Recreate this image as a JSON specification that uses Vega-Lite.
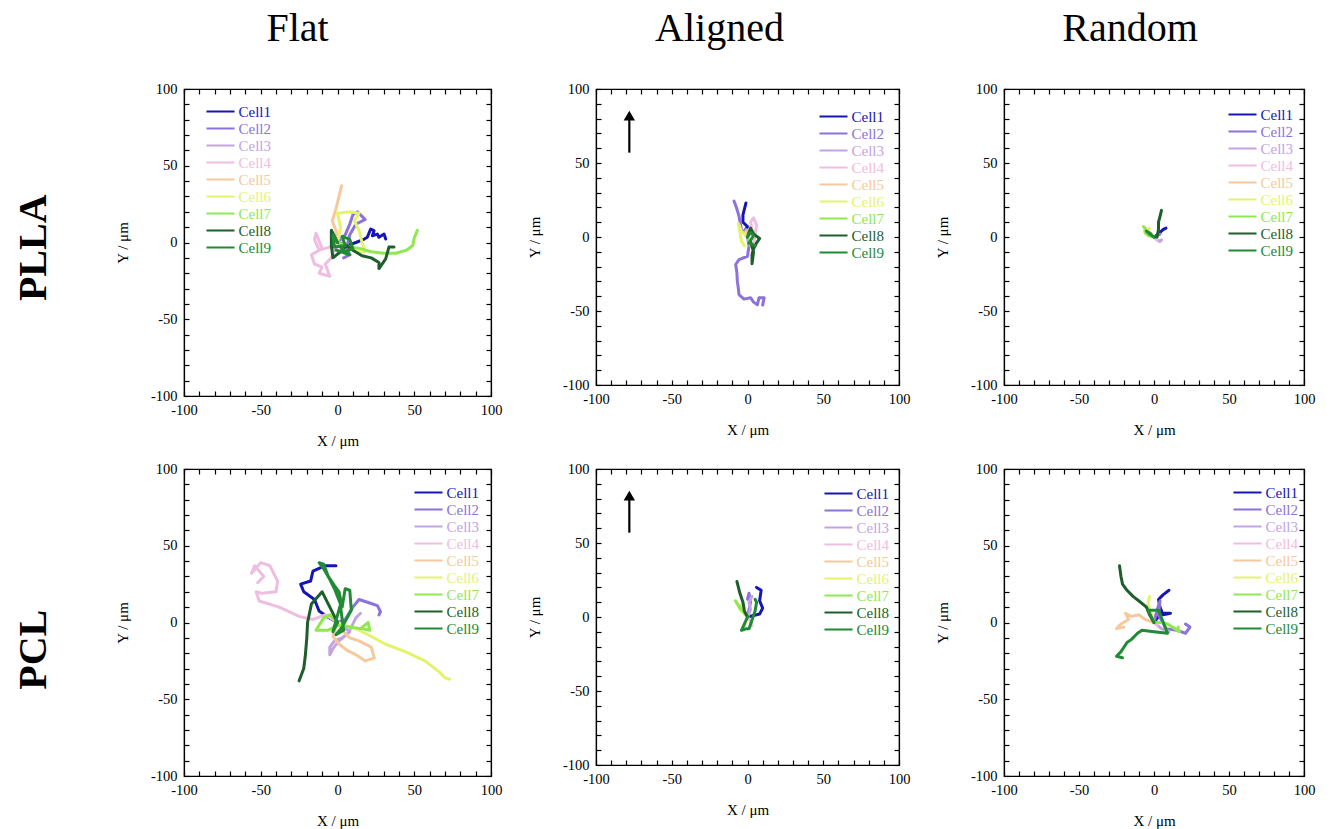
{
  "$schema": "https://vega.github.io/schema/vega-lite/v6.json",
  "background": "white",
  "padding": {"left": 13, "top": 8, "right": 5, "bottom": 3},
  "config": {
    "font": "Liberation Serif",
    "view": {"stroke": "black", "strokeWidth": 1.2, "fill": "white"},
    "axis": {
      "grid": false,
      "domainColor": "black",
      "domainWidth": 1.2,
      "tickColor": "black",
      "tickWidth": 1.2,
      "tickCount": 20,
      "tickSize": -5,
      "labelExpr": "datum.value % 50 === 0 ? '' + datum.value : ''",
      "labelOverlap": false,
      "labelFlush": false,
      "labelFont": "Liberation Serif",
      "labelFontSize": 14.5,
      "labelColor": "black",
      "labelPadding": 12,
      "titleFont": "Liberation Serif",
      "titleFontSize": 15,
      "titleFontWeight": "normal",
      "titleColor": "black",
      "titlePadding": 14
    },
    "axisX": {"titlePadding": 17},
    "axisY": {"titlePadding": 20},
    "legend": {
      "title": null,
      "orient": "none",
      "symbolType": "M-1.87,0H1.87",
      "symbolStrokeWidth": 2,
      "symbolSize": 225,
      "labelFont": "Liberation Serif",
      "labelFontSize": 15,
      "rowPadding": -3,
      "padding": 0,
      "labelOffset": 9.5
    },
    "title": {"font": "Liberation Serif", "fontSize": 40, "fontWeight": "normal", "color": "black", "offset": 32}
  },
  "datasets": {
    "arrow": [{"x": -78, "y": 57, "y2": 80}],
    "head": [{"x": -78, "y": 82}],
    "tracks": [
      {"p":1,"c":"Cell1","i":0,"x":0,"y":0},{"p":1,"c":"Cell1","i":1,"x":6,"y":-2},{"p":1,"c":"Cell1","i":2,"x":12,"y":0},{"p":1,"c":"Cell1","i":3,"x":17,"y":2},{"p":1,"c":"Cell1","i":4,"x":19.4,"y":3.4},{"p":1,"c":"Cell1","i":5,"x":21.6,"y":8.8},{"p":1,"c":"Cell1","i":6,"x":23.8,"y":7.7},{"p":1,"c":"Cell1","i":7,"x":22.7,"y":4.4},{"p":1,"c":"Cell1","i":8,"x":26,"y":5.5},{"p":1,"c":"Cell1","i":9,"x":27,"y":3.4},{"p":1,"c":"Cell1","i":10,"x":30.3,"y":5.5},{"p":1,"c":"Cell1","i":11,"x":31.4,"y":2.3},
      {"p":1,"c":"Cell2","i":0,"x":0,"y":0},{"p":1,"c":"Cell2","i":1,"x":5,"y":5},{"p":1,"c":"Cell2","i":2,"x":8,"y":12},{"p":1,"c":"Cell2","i":3,"x":10,"y":18},{"p":1,"c":"Cell2","i":4,"x":13,"y":20},{"p":1,"c":"Cell2","i":5,"x":16,"y":17},{"p":1,"c":"Cell2","i":6,"x":18,"y":15},{"p":1,"c":"Cell2","i":7,"x":12,"y":12},{"p":1,"c":"Cell2","i":8,"x":8,"y":5},{"p":1,"c":"Cell2","i":9,"x":6,"y":-3},{"p":1,"c":"Cell2","i":10,"x":8,"y":-8},{"p":1,"c":"Cell2","i":11,"x":4,"y":-10},
      {"p":1,"c":"Cell3","i":0,"x":0,"y":0},{"p":1,"c":"Cell3","i":1,"x":-3,"y":3},{"p":1,"c":"Cell3","i":2,"x":-4,"y":-3},{"p":1,"c":"Cell3","i":3,"x":2,"y":-6},{"p":1,"c":"Cell3","i":4,"x":5,"y":-2},{"p":1,"c":"Cell3","i":5,"x":3,"y":3},
      {"p":1,"c":"Cell4","i":0,"x":0,"y":0},{"p":1,"c":"Cell4","i":1,"x":-5,"y":-3},{"p":1,"c":"Cell4","i":2,"x":-12,"y":-5},{"p":1,"c":"Cell4","i":3,"x":-15,"y":2},{"p":1,"c":"Cell4","i":4,"x":-14,"y":6},{"p":1,"c":"Cell4","i":5,"x":-10,"y":-4},{"p":1,"c":"Cell4","i":6,"x":-17,"y":-8},{"p":1,"c":"Cell4","i":7,"x":-15,"y":-14},{"p":1,"c":"Cell4","i":8,"x":-10,"y":-16},{"p":1,"c":"Cell4","i":9,"x":-12,"y":-20},{"p":1,"c":"Cell4","i":10,"x":-5,"y":-22},{"p":1,"c":"Cell4","i":11,"x":-8,"y":-14},{"p":1,"c":"Cell4","i":12,"x":-4,"y":-10},{"p":1,"c":"Cell4","i":13,"x":-2,"y":-5},
      {"p":1,"c":"Cell5","i":0,"x":0,"y":0},{"p":1,"c":"Cell5","i":1,"x":-1,"y":7.7},{"p":1,"c":"Cell5","i":2,"x":-3.4,"y":14},{"p":1,"c":"Cell5","i":3,"x":-1,"y":22},{"p":1,"c":"Cell5","i":4,"x":1,"y":30},{"p":1,"c":"Cell5","i":5,"x":2.7,"y":37},
      {"p":1,"c":"Cell6","i":0,"x":0,"y":0},{"p":1,"c":"Cell6","i":1,"x":2,"y":10},{"p":1,"c":"Cell6","i":2,"x":0,"y":19},{"p":1,"c":"Cell6","i":3,"x":8,"y":20},{"p":1,"c":"Cell6","i":4,"x":14,"y":19},{"p":1,"c":"Cell6","i":5,"x":11,"y":14},{"p":1,"c":"Cell6","i":6,"x":14,"y":8},{"p":1,"c":"Cell6","i":7,"x":16,"y":0},{"p":1,"c":"Cell6","i":8,"x":18,"y":-6},{"p":1,"c":"Cell6","i":9,"x":13,"y":-6},{"p":1,"c":"Cell6","i":10,"x":8,"y":-3},
      {"p":1,"c":"Cell7","i":0,"x":0,"y":0},{"p":1,"c":"Cell7","i":1,"x":8,"y":-3},{"p":1,"c":"Cell7","i":2,"x":15,"y":-4},{"p":1,"c":"Cell7","i":3,"x":22,"y":-6},{"p":1,"c":"Cell7","i":4,"x":30,"y":-7},{"p":1,"c":"Cell7","i":5,"x":38,"y":-7},{"p":1,"c":"Cell7","i":6,"x":45,"y":-5},{"p":1,"c":"Cell7","i":7,"x":49,"y":-2},{"p":1,"c":"Cell7","i":8,"x":50,"y":3},{"p":1,"c":"Cell7","i":9,"x":52,"y":8},
      {"p":1,"c":"Cell8","i":0,"x":0,"y":0},{"p":1,"c":"Cell8","i":1,"x":-4,"y":8},{"p":1,"c":"Cell8","i":2,"x":-4,"y":-2},{"p":1,"c":"Cell8","i":3,"x":-3,"y":-10},{"p":1,"c":"Cell8","i":4,"x":2,"y":-6},{"p":1,"c":"Cell8","i":5,"x":6,"y":-2},{"p":1,"c":"Cell8","i":6,"x":10,"y":-5},{"p":1,"c":"Cell8","i":7,"x":16,"y":-8.6},{"p":1,"c":"Cell8","i":8,"x":22,"y":-10},{"p":1,"c":"Cell8","i":9,"x":27,"y":-13},{"p":1,"c":"Cell8","i":10,"x":27,"y":-17},{"p":1,"c":"Cell8","i":11,"x":31.4,"y":-10.7},{"p":1,"c":"Cell8","i":12,"x":33.5,"y":-3},{"p":1,"c":"Cell8","i":13,"x":36.8,"y":-3},
      {"p":1,"c":"Cell9","i":0,"x":0,"y":0},{"p":1,"c":"Cell9","i":1,"x":-3,"y":5},{"p":1,"c":"Cell9","i":2,"x":-2,"y":-3},{"p":1,"c":"Cell9","i":3,"x":5,"y":-2},{"p":1,"c":"Cell9","i":4,"x":3,"y":4},{"p":1,"c":"Cell9","i":5,"x":8,"y":2},{"p":1,"c":"Cell9","i":6,"x":10,"y":-4},{"p":1,"c":"Cell9","i":7,"x":5,"y":-6},{"p":1,"c":"Cell9","i":8,"x":2,"y":-3},{"p":1,"c":"Cell9","i":9,"x":8,"y":-8},{"p":1,"c":"Cell9","i":10,"x":-1,"y":-5},

      {"p":2,"c":"Cell1","i":0,"x":0,"y":0},{"p":2,"c":"Cell1","i":1,"x":-2,"y":4},{"p":2,"c":"Cell1","i":2,"x":0,"y":7},{"p":2,"c":"Cell1","i":3,"x":-3,"y":10},{"p":2,"c":"Cell1","i":4,"x":-3,"y":15},{"p":2,"c":"Cell1","i":5,"x":-2,"y":19},{"p":2,"c":"Cell1","i":6,"x":-1,"y":23},
      {"p":2,"c":"Cell2","i":0,"x":-8.9,"y":24.3},{"p":2,"c":"Cell2","i":1,"x":-7,"y":19},{"p":2,"c":"Cell2","i":2,"x":-5.6,"y":14},{"p":2,"c":"Cell2","i":3,"x":-4,"y":5},{"p":2,"c":"Cell2","i":4,"x":0,"y":0},{"p":2,"c":"Cell2","i":5,"x":1,"y":-6},{"p":2,"c":"Cell2","i":6,"x":0,"y":-13},{"p":2,"c":"Cell2","i":7,"x":-5.6,"y":-15.3},{"p":2,"c":"Cell2","i":8,"x":-7.8,"y":-18.6},{"p":2,"c":"Cell2","i":9,"x":-7,"y":-24},{"p":2,"c":"Cell2","i":10,"x":-6.7,"y":-30},{"p":2,"c":"Cell2","i":11,"x":-6,"y":-35},{"p":2,"c":"Cell2","i":12,"x":-5.6,"y":-39},{"p":2,"c":"Cell2","i":13,"x":-2.3,"y":-42},{"p":2,"c":"Cell2","i":14,"x":2,"y":-41},{"p":2,"c":"Cell2","i":15,"x":4,"y":-44},{"p":2,"c":"Cell2","i":16,"x":6.5,"y":-45.8},{"p":2,"c":"Cell2","i":17,"x":7.6,"y":-41},{"p":2,"c":"Cell2","i":18,"x":11,"y":-41},{"p":2,"c":"Cell2","i":19,"x":10,"y":-46},
      {"p":2,"c":"Cell3","i":0,"x":0,"y":0},{"p":2,"c":"Cell3","i":1,"x":-2,"y":2},{"p":2,"c":"Cell3","i":2,"x":-1,"y":5},{"p":2,"c":"Cell3","i":3,"x":1,"y":3},
      {"p":2,"c":"Cell4","i":0,"x":0,"y":0},{"p":2,"c":"Cell4","i":1,"x":3,"y":5},{"p":2,"c":"Cell4","i":2,"x":2,"y":10},{"p":2,"c":"Cell4","i":3,"x":4,"y":13},{"p":2,"c":"Cell4","i":4,"x":6,"y":8},{"p":2,"c":"Cell4","i":5,"x":5,"y":2},{"p":2,"c":"Cell4","i":6,"x":4,"y":-5},{"p":2,"c":"Cell4","i":7,"x":3,"y":-12},
      {"p":2,"c":"Cell5","i":0,"x":0,"y":0},{"p":2,"c":"Cell5","i":1,"x":-1,"y":3},{"p":2,"c":"Cell5","i":2,"x":1,"y":5},
      {"p":2,"c":"Cell6","i":0,"x":0,"y":0},{"p":2,"c":"Cell6","i":1,"x":-4,"y":4},{"p":2,"c":"Cell6","i":2,"x":-6,"y":9},{"p":2,"c":"Cell6","i":3,"x":-5,"y":3},{"p":2,"c":"Cell6","i":4,"x":-4,"y":-3},{"p":2,"c":"Cell6","i":5,"x":-2,"y":-6},
      {"p":2,"c":"Cell7","i":0,"x":0,"y":0},{"p":2,"c":"Cell7","i":1,"x":1,"y":-3},{"p":2,"c":"Cell7","i":2,"x":2,"y":-6},
      {"p":2,"c":"Cell8","i":0,"x":0,"y":0},{"p":2,"c":"Cell8","i":1,"x":2,"y":6},{"p":2,"c":"Cell8","i":2,"x":4,"y":2},{"p":2,"c":"Cell8","i":3,"x":8,"y":-1},{"p":2,"c":"Cell8","i":4,"x":6,"y":-4},{"p":2,"c":"Cell8","i":5,"x":4,"y":-8},{"p":2,"c":"Cell8","i":6,"x":3,"y":-12},{"p":2,"c":"Cell8","i":7,"x":3,"y":-18},{"p":2,"c":"Cell8","i":8,"x":4,"y":-10},{"p":2,"c":"Cell8","i":9,"x":2,"y":-3},
      {"p":2,"c":"Cell9","i":0,"x":0,"y":0},{"p":2,"c":"Cell9","i":1,"x":2,"y":3},{"p":2,"c":"Cell9","i":2,"x":4,"y":1},{"p":2,"c":"Cell9","i":3,"x":1,"y":-4},{"p":2,"c":"Cell9","i":4,"x":5,"y":-6},

      {"p":3,"c":"Cell1","i":0,"x":0,"y":0},{"p":3,"c":"Cell1","i":1,"x":3,"y":2},{"p":3,"c":"Cell1","i":2,"x":6,"y":5},{"p":3,"c":"Cell1","i":3,"x":8,"y":6},
      {"p":3,"c":"Cell2","i":0,"x":0,"y":0},{"p":3,"c":"Cell2","i":1,"x":2,"y":1},{"p":3,"c":"Cell2","i":2,"x":4,"y":2},
      {"p":3,"c":"Cell3","i":0,"x":0,"y":0},{"p":3,"c":"Cell3","i":1,"x":2,"y":-2},{"p":3,"c":"Cell3","i":2,"x":4,"y":-3},{"p":3,"c":"Cell3","i":3,"x":5,"y":-2},
      {"p":3,"c":"Cell4","i":0,"x":0,"y":0},{"p":3,"c":"Cell4","i":1,"x":1,"y":-1},{"p":3,"c":"Cell4","i":2,"x":2,"y":-2},
      {"p":3,"c":"Cell5","i":0,"x":0,"y":0},{"p":3,"c":"Cell5","i":1,"x":-1,"y":1},{"p":3,"c":"Cell5","i":2,"x":-2,"y":2},
      {"p":3,"c":"Cell6","i":0,"x":0,"y":0},{"p":3,"c":"Cell6","i":1,"x":-3,"y":3},{"p":3,"c":"Cell6","i":2,"x":-5,"y":5},{"p":3,"c":"Cell6","i":3,"x":-3,"y":6},
      {"p":3,"c":"Cell7","i":0,"x":0,"y":0},{"p":3,"c":"Cell7","i":1,"x":-4,"y":1},{"p":3,"c":"Cell7","i":2,"x":-6,"y":3},{"p":3,"c":"Cell7","i":3,"x":-6,"y":6},{"p":3,"c":"Cell7","i":4,"x":-7,"y":7},
      {"p":3,"c":"Cell8","i":0,"x":0,"y":0},{"p":3,"c":"Cell8","i":1,"x":2,"y":0},{"p":3,"c":"Cell8","i":2,"x":3,"y":5},{"p":3,"c":"Cell8","i":3,"x":3,"y":10},{"p":3,"c":"Cell8","i":4,"x":4,"y":14},{"p":3,"c":"Cell8","i":5,"x":5,"y":18},
      {"p":3,"c":"Cell9","i":0,"x":0,"y":0},{"p":3,"c":"Cell9","i":1,"x":-3,"y":2},{"p":3,"c":"Cell9","i":2,"x":-5,"y":4},{"p":3,"c":"Cell9","i":3,"x":-2,"y":2},

      {"p":4,"c":"Cell1","i":0,"x":0,"y":0},{"p":4,"c":"Cell1","i":1,"x":-7,"y":4},{"p":4,"c":"Cell1","i":2,"x":-12,"y":7.5},{"p":4,"c":"Cell1","i":3,"x":-15,"y":15},{"p":4,"c":"Cell1","i":4,"x":-22,"y":20},{"p":4,"c":"Cell1","i":5,"x":-24,"y":25},{"p":4,"c":"Cell1","i":6,"x":-17.5,"y":27},{"p":4,"c":"Cell1","i":7,"x":-16,"y":33.5},{"p":4,"c":"Cell1","i":8,"x":-8,"y":37},{"p":4,"c":"Cell1","i":9,"x":-1,"y":37},
      {"p":4,"c":"Cell2","i":0,"x":0,"y":0},{"p":4,"c":"Cell2","i":1,"x":5,"y":2},{"p":4,"c":"Cell2","i":2,"x":10,"y":10},{"p":4,"c":"Cell2","i":3,"x":14,"y":15},{"p":4,"c":"Cell2","i":4,"x":20,"y":13},{"p":4,"c":"Cell2","i":5,"x":26,"y":11},{"p":4,"c":"Cell2","i":6,"x":28,"y":7},{"p":4,"c":"Cell2","i":7,"x":27,"y":5},
      {"p":4,"c":"Cell3","i":0,"x":0,"y":0},{"p":4,"c":"Cell3","i":1,"x":8,"y":-6},{"p":4,"c":"Cell3","i":2,"x":3,"y":-10},{"p":4,"c":"Cell3","i":3,"x":-2,"y":-12},{"p":4,"c":"Cell3","i":4,"x":-5,"y":-16},{"p":4,"c":"Cell3","i":5,"x":-5,"y":-21},{"p":4,"c":"Cell3","i":6,"x":-3,"y":-17},{"p":4,"c":"Cell3","i":7,"x":1,"y":-12},{"p":4,"c":"Cell3","i":8,"x":7,"y":-7},{"p":4,"c":"Cell3","i":9,"x":12,"y":3},{"p":4,"c":"Cell3","i":10,"x":15,"y":6},
      {"p":4,"c":"Cell4","i":0,"x":0,"y":0},{"p":4,"c":"Cell4","i":1,"x":-8,"y":5},{"p":4,"c":"Cell4","i":2,"x":-16,"y":2},{"p":4,"c":"Cell4","i":3,"x":-25,"y":4},{"p":4,"c":"Cell4","i":4,"x":-38,"y":10},{"p":4,"c":"Cell4","i":5,"x":-51,"y":14},{"p":4,"c":"Cell4","i":6,"x":-53,"y":20},{"p":4,"c":"Cell4","i":7,"x":-49,"y":19},{"p":4,"c":"Cell4","i":8,"x":-40,"y":20},{"p":4,"c":"Cell4","i":9,"x":-39,"y":27},{"p":4,"c":"Cell4","i":10,"x":-44,"y":37},{"p":4,"c":"Cell4","i":11,"x":-50,"y":39},{"p":4,"c":"Cell4","i":12,"x":-56,"y":32},{"p":4,"c":"Cell4","i":13,"x":-54,"y":37},{"p":4,"c":"Cell4","i":14,"x":-48,"y":30},{"p":4,"c":"Cell4","i":15,"x":-52,"y":26},
      {"p":4,"c":"Cell5","i":0,"x":0,"y":0},{"p":4,"c":"Cell5","i":1,"x":-3,"y":-9},{"p":4,"c":"Cell5","i":2,"x":1,"y":-14},{"p":4,"c":"Cell5","i":3,"x":6,"y":-18},{"p":4,"c":"Cell5","i":4,"x":12,"y":-21},{"p":4,"c":"Cell5","i":5,"x":18,"y":-25},{"p":4,"c":"Cell5","i":6,"x":24,"y":-23},{"p":4,"c":"Cell5","i":7,"x":22,"y":-16},{"p":4,"c":"Cell5","i":8,"x":14,"y":-12},{"p":4,"c":"Cell5","i":9,"x":8,"y":-10},{"p":4,"c":"Cell5","i":10,"x":4,"y":-6},
      {"p":4,"c":"Cell6","i":0,"x":0,"y":0},{"p":4,"c":"Cell6","i":1,"x":5,"y":-2},{"p":4,"c":"Cell6","i":2,"x":12,"y":-4},{"p":4,"c":"Cell6","i":3,"x":20,"y":-8},{"p":4,"c":"Cell6","i":4,"x":31,"y":-14},{"p":4,"c":"Cell6","i":5,"x":44,"y":-19},{"p":4,"c":"Cell6","i":6,"x":57,"y":-25},{"p":4,"c":"Cell6","i":7,"x":66,"y":-32},{"p":4,"c":"Cell6","i":8,"x":70,"y":-36},{"p":4,"c":"Cell6","i":9,"x":73,"y":-37},
      {"p":4,"c":"Cell7","i":0,"x":0,"y":0},{"p":4,"c":"Cell7","i":1,"x":-5,"y":5},{"p":4,"c":"Cell7","i":2,"x":-9,"y":3},{"p":4,"c":"Cell7","i":3,"x":-14,"y":-5},{"p":4,"c":"Cell7","i":4,"x":-6,"y":-5},{"p":4,"c":"Cell7","i":5,"x":0,"y":-2},{"p":4,"c":"Cell7","i":6,"x":8,"y":-3},{"p":4,"c":"Cell7","i":7,"x":15,"y":-4},{"p":4,"c":"Cell7","i":8,"x":20,"y":0},{"p":4,"c":"Cell7","i":9,"x":21,"y":-5},{"p":4,"c":"Cell7","i":10,"x":16,"y":-4},
      {"p":4,"c":"Cell8","i":0,"x":0,"y":0},{"p":4,"c":"Cell8","i":1,"x":-5,"y":10},{"p":4,"c":"Cell8","i":2,"x":-10,"y":20},{"p":4,"c":"Cell8","i":3,"x":-17,"y":12},{"p":4,"c":"Cell8","i":4,"x":-19.5,"y":0},{"p":4,"c":"Cell8","i":5,"x":-20,"y":-10},{"p":4,"c":"Cell8","i":6,"x":-21,"y":-22},{"p":4,"c":"Cell8","i":7,"x":-22,"y":-30},{"p":4,"c":"Cell8","i":8,"x":-25,"y":-38},
      {"p":4,"c":"Cell9","i":0,"x":0,"y":0},{"p":4,"c":"Cell9","i":1,"x":-3,"y":-6},{"p":4,"c":"Cell9","i":2,"x":2,"y":12},{"p":4,"c":"Cell9","i":3,"x":-2,"y":22},{"p":4,"c":"Cell9","i":4,"x":-5,"y":28},{"p":4,"c":"Cell9","i":5,"x":-9,"y":35},{"p":4,"c":"Cell9","i":6,"x":-12,"y":39},{"p":4,"c":"Cell9","i":7,"x":-9,"y":38},{"p":4,"c":"Cell9","i":8,"x":-6,"y":30},{"p":4,"c":"Cell9","i":9,"x":-2,"y":24},{"p":4,"c":"Cell9","i":10,"x":1,"y":20},{"p":4,"c":"Cell9","i":11,"x":3,"y":10},{"p":4,"c":"Cell9","i":12,"x":5,"y":22},{"p":4,"c":"Cell9","i":13,"x":8,"y":21},{"p":4,"c":"Cell9","i":14,"x":9,"y":8},{"p":4,"c":"Cell9","i":15,"x":3,"y":-3},{"p":4,"c":"Cell9","i":16,"x":-1,"y":-8},{"p":4,"c":"Cell9","i":17,"x":4,"y":-5},{"p":4,"c":"Cell9","i":18,"x":2,"y":10},

      {"p":5,"c":"Cell1","i":0,"x":0,"y":0},{"p":5,"c":"Cell1","i":1,"x":4,"y":1},{"p":5,"c":"Cell1","i":2,"x":8,"y":2},{"p":5,"c":"Cell1","i":3,"x":10,"y":6},{"p":5,"c":"Cell1","i":4,"x":8,"y":11},{"p":5,"c":"Cell1","i":5,"x":9,"y":18},{"p":5,"c":"Cell1","i":6,"x":6,"y":20},
      {"p":5,"c":"Cell2","i":0,"x":0,"y":0},{"p":5,"c":"Cell2","i":1,"x":1,"y":5},{"p":5,"c":"Cell2","i":2,"x":2,"y":10},{"p":5,"c":"Cell2","i":3,"x":1,"y":16},{"p":5,"c":"Cell2","i":4,"x":0,"y":12},
      {"p":5,"c":"Cell3","i":0,"x":0,"y":0},{"p":5,"c":"Cell3","i":1,"x":2,"y":5},{"p":5,"c":"Cell3","i":2,"x":1,"y":10},{"p":5,"c":"Cell3","i":3,"x":3,"y":14},
      {"p":5,"c":"Cell4","i":0,"x":0,"y":0},{"p":5,"c":"Cell4","i":1,"x":2,"y":-3},{"p":5,"c":"Cell4","i":2,"x":3,"y":-6},
      {"p":5,"c":"Cell5","i":0,"x":0,"y":0},{"p":5,"c":"Cell5","i":1,"x":-1,"y":-3},{"p":5,"c":"Cell5","i":2,"x":-2,"y":-6},
      {"p":5,"c":"Cell6","i":0,"x":0,"y":0},{"p":5,"c":"Cell6","i":1,"x":-3,"y":3},{"p":5,"c":"Cell6","i":2,"x":-5,"y":5},{"p":5,"c":"Cell6","i":3,"x":-4,"y":8},
      {"p":5,"c":"Cell7","i":0,"x":0,"y":0},{"p":5,"c":"Cell7","i":1,"x":-3,"y":4},{"p":5,"c":"Cell7","i":2,"x":-6,"y":8},{"p":5,"c":"Cell7","i":3,"x":-8,"y":11},{"p":5,"c":"Cell7","i":4,"x":-5,"y":6},
      {"p":5,"c":"Cell8","i":0,"x":0,"y":0},{"p":5,"c":"Cell8","i":1,"x":-2,"y":4},{"p":5,"c":"Cell8","i":2,"x":-3,"y":10},{"p":5,"c":"Cell8","i":3,"x":-5,"y":16},{"p":5,"c":"Cell8","i":4,"x":-7,"y":24},
      {"p":5,"c":"Cell9","i":0,"x":0,"y":0},{"p":5,"c":"Cell9","i":1,"x":-4,"y":-9},{"p":5,"c":"Cell9","i":2,"x":-1,"y":-8},{"p":5,"c":"Cell9","i":3,"x":1,"y":-8},{"p":5,"c":"Cell9","i":4,"x":3,"y":-2},{"p":5,"c":"Cell9","i":5,"x":5,"y":4},{"p":5,"c":"Cell9","i":6,"x":6,"y":10},{"p":5,"c":"Cell9","i":7,"x":5,"y":12},

      {"p":6,"c":"Cell1","i":0,"x":0,"y":0},{"p":6,"c":"Cell1","i":1,"x":3,"y":4},{"p":6,"c":"Cell1","i":2,"x":6,"y":6},{"p":6,"c":"Cell1","i":3,"x":11,"y":6},{"p":6,"c":"Cell1","i":4,"x":6,"y":5},{"p":6,"c":"Cell1","i":5,"x":4,"y":10},{"p":6,"c":"Cell1","i":6,"x":3,"y":15},{"p":6,"c":"Cell1","i":7,"x":6,"y":18},{"p":6,"c":"Cell1","i":8,"x":10,"y":21},
      {"p":6,"c":"Cell2","i":0,"x":0,"y":0},{"p":6,"c":"Cell2","i":1,"x":2,"y":8},{"p":6,"c":"Cell2","i":2,"x":4,"y":14},{"p":6,"c":"Cell2","i":3,"x":3,"y":5},{"p":6,"c":"Cell2","i":4,"x":8,"y":-4},{"p":6,"c":"Cell2","i":5,"x":15,"y":-5},{"p":6,"c":"Cell2","i":6,"x":21,"y":-7},{"p":6,"c":"Cell2","i":7,"x":24,"y":-3},{"p":6,"c":"Cell2","i":8,"x":21,"y":-1},
      {"p":6,"c":"Cell3","i":0,"x":0,"y":0},{"p":6,"c":"Cell3","i":1,"x":5,"y":-4},{"p":6,"c":"Cell3","i":2,"x":10,"y":-6},
      {"p":6,"c":"Cell4","i":0,"x":0,"y":0},{"p":6,"c":"Cell4","i":1,"x":2,"y":-2},
      {"p":6,"c":"Cell5","i":0,"x":0,"y":0},{"p":6,"c":"Cell5","i":1,"x":-6,"y":2},{"p":6,"c":"Cell5","i":2,"x":-10,"y":5},{"p":6,"c":"Cell5","i":3,"x":-15,"y":4},{"p":6,"c":"Cell5","i":4,"x":-19,"y":6},{"p":6,"c":"Cell5","i":5,"x":-17,"y":2},{"p":6,"c":"Cell5","i":6,"x":-22,"y":-1},{"p":6,"c":"Cell5","i":7,"x":-25,"y":-4},{"p":6,"c":"Cell5","i":8,"x":-20,"y":-3},
      {"p":6,"c":"Cell6","i":0,"x":0,"y":0},{"p":6,"c":"Cell6","i":1,"x":-2,"y":6},{"p":6,"c":"Cell6","i":2,"x":-4,"y":12},{"p":6,"c":"Cell6","i":3,"x":-3,"y":17},
      {"p":6,"c":"Cell7","i":0,"x":0,"y":0},{"p":6,"c":"Cell7","i":1,"x":5,"y":0},{"p":6,"c":"Cell7","i":2,"x":9,"y":-1},{"p":6,"c":"Cell7","i":3,"x":14,"y":-4},{"p":6,"c":"Cell7","i":4,"x":17,"y":-6},{"p":6,"c":"Cell7","i":5,"x":16,"y":-3},
      {"p":6,"c":"Cell8","i":0,"x":0,"y":0},{"p":6,"c":"Cell8","i":1,"x":-3,"y":5},{"p":6,"c":"Cell8","i":2,"x":-5,"y":10},{"p":6,"c":"Cell8","i":3,"x":-10,"y":14},{"p":6,"c":"Cell8","i":4,"x":-14,"y":17},{"p":6,"c":"Cell8","i":5,"x":-18,"y":21},{"p":6,"c":"Cell8","i":6,"x":-21,"y":25},{"p":6,"c":"Cell8","i":7,"x":-22,"y":30},{"p":6,"c":"Cell8","i":8,"x":-23,"y":37},
      {"p":6,"c":"Cell9","i":0,"x":0,"y":0},{"p":6,"c":"Cell9","i":1,"x":-4,"y":8},{"p":6,"c":"Cell9","i":2,"x":3,"y":8},{"p":6,"c":"Cell9","i":3,"x":9,"y":-7},{"p":6,"c":"Cell9","i":4,"x":0,"y":-6},{"p":6,"c":"Cell9","i":5,"x":-8,"y":-5},{"p":6,"c":"Cell9","i":6,"x":-11,"y":-7},{"p":6,"c":"Cell9","i":7,"x":-15,"y":-11},{"p":6,"c":"Cell9","i":8,"x":-18,"y":-13},{"p":6,"c":"Cell9","i":9,"x":-22,"y":-19},{"p":6,"c":"Cell9","i":10,"x":-25,"y":-22},{"p":6,"c":"Cell9","i":11,"x":-21,"y":-23}
    ]
  },
  "vconcat": [
    {
      "title": {"text": "PLLA", "orient": "left", "anchor": "middle", "fontWeight": "bold", "fontSize": 40, "offset": 61, "dx": -19},
      "spacing": 23,
      "hconcat": [
        {
          "width": 307, "height": 307,
          "title": {"text": "Flat", "dx": -40},
          "layer": [
            {"data": {"name": "tracks"}, "transform": [{"filter": "datum.p == 1"}],
             "mark": {"type": "line", "strokeWidth": 3, "strokeJoin": "round", "strokeCap": "round"},
             "encoding": {
               "x": {"field": "x", "type": "quantitative", "scale": {"domain": [-100, 100], "nice": false}, "axis": {"title": "X / μm"}},
               "y": {"field": "y", "type": "quantitative", "scale": {"domain": [-100, 100], "nice": false}, "axis": {"title": "Y / μm"}},
               "color": {"field": "c", "type": "nominal", "scale": {"domain": ["Cell1","Cell2","Cell3","Cell4","Cell5","Cell6","Cell7","Cell8","Cell9"], "range": ["#1616b4","#8b73d9","#c4a3e3","#efbde0","#f5c99b","#e4f36a","#8fe850","#1d5e2b","#218a35"]},
                         "legend": {"legendX": 28, "legendY": 14, "encode": {"labels": {"update": {"fill": {"scale": "color", "field": "value"}}}}}},
               "order": {"field": "i", "type": "quantitative"}
             }},
            {"data": {"name": "tracks"}, "transform": [{"filter": "datum.p == 1"}],
             "mark": {"type": "point", "opacity": 0},
             "encoding": {
               "x": {"field": "x", "type": "quantitative", "axis": {"orient": "top", "labels": false, "title": null}},
               "y": {"field": "y", "type": "quantitative", "axis": {"orient": "right", "labels": false, "title": null}}
             }}
          ],
          "resolve": {"axis": {"x": "independent", "y": "independent"}}
        },
        {
          "width": 303, "height": 296,
          "title": {"text": "Aligned", "dx": -28},
          "layer": [
            {"data": {"name": "tracks"}, "transform": [{"filter": "datum.p == 2"}],
             "mark": {"type": "line", "strokeWidth": 3, "strokeJoin": "round", "strokeCap": "round"},
             "encoding": {
               "x": {"field": "x", "type": "quantitative", "scale": {"domain": [-100, 100], "nice": false}, "axis": {"title": "X / μm"}},
               "y": {"field": "y", "type": "quantitative", "scale": {"domain": [-100, 100], "nice": false}, "axis": {"title": "Y / μm"}},
               "color": {"field": "c", "type": "nominal",
                         "legend": {"legendX": 229, "legendY": 19, "encode": {"labels": {"update": {"fill": {"scale": "color", "field": "value"}}}}}},
               "order": {"field": "i", "type": "quantitative"}
             }},
            {"data": {"name": "arrow"}, "mark": {"type": "rule", "color": "black", "strokeWidth": 2.2},
             "encoding": {"x": {"field": "x", "type": "quantitative", "axis": null}, "y": {"field": "y", "type": "quantitative", "axis": null}, "y2": {"field": "y2"}}},
            {"data": {"name": "head"}, "mark": {"type": "point", "shape": "triangle-up", "filled": true, "color": "black", "size": 130, "opacity": 1},
             "encoding": {"x": {"field": "x", "type": "quantitative", "axis": null}, "y": {"field": "y", "type": "quantitative", "axis": null}}},
            {"data": {"name": "tracks"}, "transform": [{"filter": "datum.p == 2"}],
             "mark": {"type": "point", "opacity": 0},
             "encoding": {
               "x": {"field": "x", "type": "quantitative", "axis": {"orient": "top", "labels": false, "title": null}},
               "y": {"field": "y", "type": "quantitative", "axis": {"orient": "right", "labels": false, "title": null}}
             }}
          ],
          "resolve": {"axis": {"x": "independent", "y": "independent"}}
        },
        {
          "width": 300, "height": 296,
          "title": {"text": "Random", "dx": -24},
          "layer": [
            {"data": {"name": "tracks"}, "transform": [{"filter": "datum.p == 3"}],
             "mark": {"type": "line", "strokeWidth": 3, "strokeJoin": "round", "strokeCap": "round"},
             "encoding": {
               "x": {"field": "x", "type": "quantitative", "scale": {"domain": [-100, 100], "nice": false}, "axis": {"title": "X / μm"}},
               "y": {"field": "y", "type": "quantitative", "scale": {"domain": [-100, 100], "nice": false}, "axis": {"title": "Y / μm"}},
               "color": {"field": "c", "type": "nominal",
                         "legend": {"legendX": 230, "legendY": 17, "encode": {"labels": {"update": {"fill": {"scale": "color", "field": "value"}}}}}},
               "order": {"field": "i", "type": "quantitative"}
             }},
            {"data": {"name": "tracks"}, "transform": [{"filter": "datum.p == 3"}],
             "mark": {"type": "point", "opacity": 0},
             "encoding": {
               "x": {"field": "x", "type": "quantitative", "axis": {"orient": "top", "labels": false, "title": null}},
               "y": {"field": "y", "type": "quantitative", "axis": {"orient": "right", "labels": false, "title": null}}
             }}
          ],
          "resolve": {"axis": {"x": "independent", "y": "independent"}}
        }
      ],
      "resolve": {"legend": {"color": "independent"}}
    },
    {
      "title": {"text": "PCL", "orient": "left", "anchor": "middle", "fontWeight": "bold", "fontSize": 40, "offset": 61, "dx": -5},
      "spacing": 23,
      "hconcat": [
        {
          "width": 307, "height": 307,
          "layer": [
            {"data": {"name": "tracks"}, "transform": [{"filter": "datum.p == 4"}],
             "mark": {"type": "line", "strokeWidth": 3, "strokeJoin": "round", "strokeCap": "round"},
             "encoding": {
               "x": {"field": "x", "type": "quantitative", "scale": {"domain": [-100, 100], "nice": false}, "axis": {"title": "X / μm"}},
               "y": {"field": "y", "type": "quantitative", "scale": {"domain": [-100, 100], "nice": false}, "axis": {"title": "Y / μm"}},
               "color": {"field": "c", "type": "nominal",
                         "legend": {"legendX": 236, "legendY": 15, "encode": {"labels": {"update": {"fill": {"scale": "color", "field": "value"}}}}}},
               "order": {"field": "i", "type": "quantitative"}
             }},
            {"data": {"name": "tracks"}, "transform": [{"filter": "datum.p == 4"}],
             "mark": {"type": "point", "opacity": 0},
             "encoding": {
               "x": {"field": "x", "type": "quantitative", "axis": {"orient": "top", "labels": false, "title": null}},
               "y": {"field": "y", "type": "quantitative", "axis": {"orient": "right", "labels": false, "title": null}}
             }}
          ],
          "resolve": {"axis": {"x": "independent", "y": "independent"}}
        },
        {
          "width": 303, "height": 296,
          "layer": [
            {"data": {"name": "tracks"}, "transform": [{"filter": "datum.p == 5"}],
             "mark": {"type": "line", "strokeWidth": 3, "strokeJoin": "round", "strokeCap": "round"},
             "encoding": {
               "x": {"field": "x", "type": "quantitative", "scale": {"domain": [-100, 100], "nice": false}, "axis": {"title": "X / μm"}},
               "y": {"field": "y", "type": "quantitative", "scale": {"domain": [-100, 100], "nice": false}, "axis": {"title": "Y / μm"}},
               "color": {"field": "c", "type": "nominal",
                         "legend": {"legendX": 234, "legendY": 16, "encode": {"labels": {"update": {"fill": {"scale": "color", "field": "value"}}}}}},
               "order": {"field": "i", "type": "quantitative"}
             }},
            {"data": {"name": "arrow"}, "mark": {"type": "rule", "color": "black", "strokeWidth": 2.2},
             "encoding": {"x": {"field": "x", "type": "quantitative", "axis": null}, "y": {"field": "y", "type": "quantitative", "axis": null}, "y2": {"field": "y2"}}},
            {"data": {"name": "head"}, "mark": {"type": "point", "shape": "triangle-up", "filled": true, "color": "black", "size": 130, "opacity": 1},
             "encoding": {"x": {"field": "x", "type": "quantitative", "axis": null}, "y": {"field": "y", "type": "quantitative", "axis": null}}},
            {"data": {"name": "tracks"}, "transform": [{"filter": "datum.p == 5"}],
             "mark": {"type": "point", "opacity": 0},
             "encoding": {
               "x": {"field": "x", "type": "quantitative", "axis": {"orient": "top", "labels": false, "title": null}},
               "y": {"field": "y", "type": "quantitative", "axis": {"orient": "right", "labels": false, "title": null}}
             }}
          ],
          "resolve": {"axis": {"x": "independent", "y": "independent"}}
        },
        {
          "width": 300, "height": 307,
          "layer": [
            {"data": {"name": "tracks"}, "transform": [{"filter": "datum.p == 6"}],
             "mark": {"type": "line", "strokeWidth": 3, "strokeJoin": "round", "strokeCap": "round"},
             "encoding": {
               "x": {"field": "x", "type": "quantitative", "scale": {"domain": [-100, 100], "nice": false}, "axis": {"title": "X / μm"}},
               "y": {"field": "y", "type": "quantitative", "scale": {"domain": [-100, 100], "nice": false}, "axis": {"title": "Y / μm"}},
               "color": {"field": "c", "type": "nominal",
                         "legend": {"legendX": 235, "legendY": 15, "encode": {"labels": {"update": {"fill": {"scale": "color", "field": "value"}}}}}},
               "order": {"field": "i", "type": "quantitative"}
             }},
            {"data": {"name": "tracks"}, "transform": [{"filter": "datum.p == 6"}],
             "mark": {"type": "point", "opacity": 0},
             "encoding": {
               "x": {"field": "x", "type": "quantitative", "axis": {"orient": "top", "labels": false, "title": null}},
               "y": {"field": "y", "type": "quantitative", "axis": {"orient": "right", "labels": false, "title": null}}
             }}
          ],
          "resolve": {"axis": {"x": "independent", "y": "independent"}}
        }
      ],
      "resolve": {"legend": {"color": "independent"}}
    }
  ],
  "spacing": 10,
  "resolve": {"legend": {"color": "independent"}}
}
